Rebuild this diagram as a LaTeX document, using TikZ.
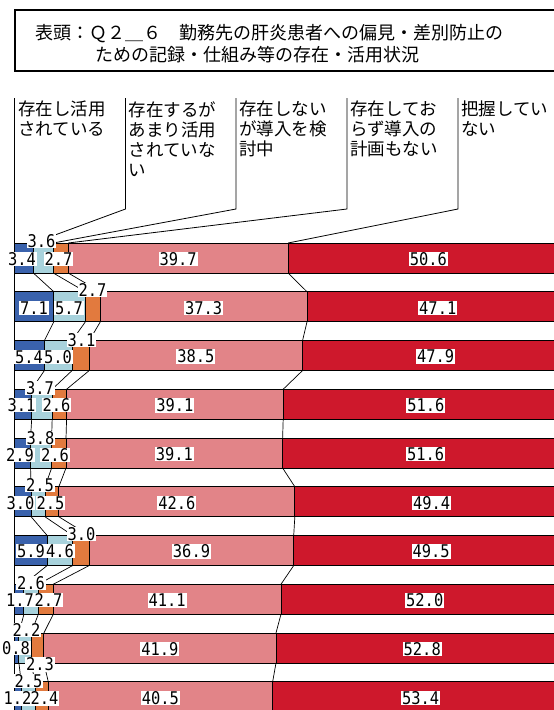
\documentclass[tikz,border=0pt]{standalone}
\usepackage{fontspec}
\setmainfont{Noto Sans CJK JP}
\newfontfamily\numfont[FakeStretch=0.88]{DejaVu Sans Mono}
\usepackage{tikz}
\usetikzlibrary{positioning}
\definecolor{segblue}{RGB}{58,98,172}
\definecolor{seglblue}{RGB}{168,210,220}
\definecolor{segorange}{RGB}{226,122,62}
\definecolor{segpink}{RGB}{226,132,136}
\definecolor{segred}{RGB}{206,24,44}
\tikzset{
  seg/.style = {draw=black, line width=0.9pt},
  serline/.style = {draw=black, line width=0.7pt},
  legline/.style = {draw=black, line width=0.8pt},
  vallbl/.style = {fill=white, inner xsep=1pt, inner ysep=1pt,
    text height=12.5pt, text depth=0pt, font=\numfont\fontsize{17.5}{17.5}\selectfont},
  titletext/.style = {anchor=west, inner sep=0pt, font=\fontsize{18}{20}\selectfont},
  legtext/.style = {anchor=north west, inner sep=0pt, align=left,
    font=\fontsize{17.5}{20}\selectfont}
}

\begin{document}
\begin{tikzpicture}[x=1pt,y=-1pt]
\useasboundingbox (0,0) rectangle (554,710);
\clip (0,0) rectangle (554,710);

% title box
\draw[line width=2pt] (14.8,10) rectangle (640,71);
\node[titletext] (title1) at (35,33.5) {表頭：Ｑ２＿６　勤務先の肝炎患者への偏見・差別防止の};
\node[titletext] (title2) at (95,55) {ための記録・仕組み等の存在・活用状況};

% bars
\foreach \va/\vb/\vc/\vd/\ve [count=\i] in {3.4/3.6/2.7/39.7/50.6, 7.1/5.7/2.7/37.3/47.1,
    5.4/5.0/3.1/38.5/47.9, 3.1/3.7/2.6/39.1/51.6, 2.9/3.8/2.6/39.1/51.6,
    3.0/2.5/2.5/42.6/49.4, 5.9/4.6/3.0/36.9/49.5, 1.7/2.6/2.7/41.1/52.0,
    0.8/2.2/2.3/41.9/52.8, 1.2/2.5/2.4/40.5/53.4}{
  \pgfmathsetmacro\rowtop{243+48.75*(\i-1)}
  \pgfmathsetmacro\rowbot{\rowtop+30}
  \pgfmathsetmacro\xa{14.5+5.54*\va}
  \pgfmathsetmacro\xb{\xa+5.54*\vb}
  \pgfmathsetmacro\xc{\xb+5.54*\vc}
  \pgfmathsetmacro\xd{\xc+5.54*\vd}
  \draw[seg, fill=segblue] (14.5,\rowtop) rectangle (\xa,\rowbot);
  \draw[seg, fill=seglblue] (\xa,\rowtop) rectangle (\xb,\rowbot);
  \draw[seg, fill=segorange] (\xb,\rowtop) rectangle (\xc,\rowbot);
  \draw[seg, fill=segpink] (\xc,\rowtop) rectangle (\xd,\rowbot);
  \draw[seg, fill=segred] (\xd,\rowtop) rectangle (580,\rowbot);
  \foreach \k/\xx in {1/\xa, 2/\xb, 3/\xc, 4/\xd}{
    \coordinate (r\i-\k-t) at (\xx,\rowtop);
    \coordinate (r\i-\k-b) at (\xx,\rowbot);
  }
  \node[vallbl] (pink\i) at ({(\xc+\xd)/2},\rowtop+16) {\vd};
  \node[vallbl] (red\i) at ({(\xd+568.5)/2},\rowtop+16) {\ve};
}

% series lines between bars
\foreach \i [evaluate=\i as \j using int(\i+1)] in {1,...,9}
  \foreach \k in {1,...,4}
    \draw[serline] (r\i-\k-b) -- (r\j-\k-t);

% legend
\node[legtext] (leg1) at (18,101) {存在し活用\\されている};
\node[legtext] (leg2) at (128.5,101) {存在するが\\あまり活用\\されていな\\い};
\node[legtext] (leg3) at (239,101) {存在しない\\が導入を検\\討中};
\node[legtext] (leg4) at (350,101) {存在してお\\らず導入の\\計画もない};
\node[legtext] (leg5) at (461,101) {把握してい\\ない};

\coordinate (lbtip) at (55,235);
\draw[legline] (14.8,98) -- (14.8,710);
\draw[legline] (125.5,98) -- (125.5,209) -- (lbtip);
\draw[legline] (236,98) -- (236,209) -- (r1-2-t);
\draw[legline] (347,98) -- (347,209) -- (r1-3-t);
\draw[legline] (458,98) -- (458,209) -- (r1-4-t);

% small values
\foreach \t/\x/\y [count=\n] in {3.4/22/259, 2.7/58.5/259, 3.6/41.5/241,
    7.1/34/308, 5.7/69/308, 2.7/92.5/290,
    5.4/29/357, 5.0/58/357, 3.1/81.5/340,
    3.1/21.5/405, 2.6/56.5/405, 3.7/40/388,
    2.9/20/455, 2.6/55/455, 3.8/40.5/438,
    3.0/20.5/503, 2.5/50.5/503, 2.5/40/485,
    5.9/31/551, 4.6/60/551, 3.0/81.5/534,
    1.7/20/600, 2.7/48.5/600, 2.6/31/583,
    0.8/16/648, 2.2/26.5/630, 2.3/40/664.5,
    1.2/17.5/698.5, 2.4/44.5/698.5, 2.5/28.5/681}
  \node[vallbl] (small\n) at (\x,\y) {\t};
\end{tikzpicture}
\end{document}
